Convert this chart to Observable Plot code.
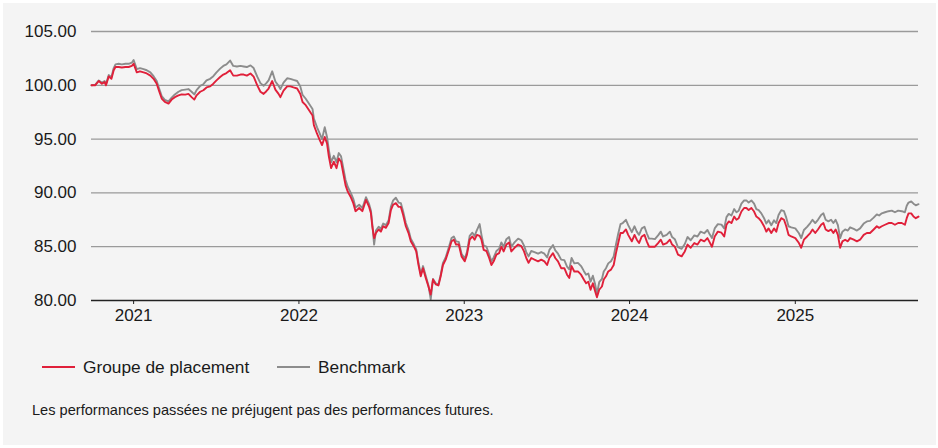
<!DOCTYPE html>
<html>
<head>
<meta charset="utf-8">
<script src="https://cdn.jsdelivr.net/npm/d3@7"></script>
<script src="https://cdn.jsdelivr.net/npm/@observablehq/plot@0.6"></script>
<style>
  html, body { margin: 0; padding: 0; background: #ffffff; }
  body { width: 938px; height: 448px; position: relative; overflow: hidden; font-family: "Liberation Sans", Arial, sans-serif; color: #1a1a1a; }
  #panel { position: absolute; left: 3px; top: 3px; width: 933px; height: 442px; background: #f4f4f4; }
  #chart { position: absolute; left: 0; top: 0; }
  .lg-line { position: absolute; height: 2px; width: 33px; }
  .lg-text { position: absolute; font-size: 17.3px; line-height: 20px; white-space: nowrap; }
  #note { position: absolute; left: 32px; top: 401px; font-size: 14.6px; line-height: 18px; white-space: nowrap; }
</style>
</head>
<body>
<div id="panel"></div>
<div id="chart"></div>
<div class="lg-line" style="left:42px; top:366px; background:#e0203a;"></div>
<div class="lg-text" style="left:83px; top:357px;">Groupe de placement</div>
<div class="lg-line" style="left:277px; top:366px; background:#8c8c8c;"></div>
<div class="lg-text" style="left:318px; top:357px;">Benchmark</div>
<div id="note">Les performances passées ne préjugent pas des performances futures.</div>
<script>
const seriesNames = ["Groupe de placement", "Benchmark"];
const yTicks = [80, 85, 90, 95, 100, 105];
const yearTicks = ["2021-01-01", "2022-01-01", "2023-01-01", "2024-01-01", "2025-01-01"];

const dates = [
  "2020-09-30","2020-10-08","2020-10-16","2020-10-23","2020-10-29","2020-11-01","2020-11-07","2020-11-13","2020-11-18","2020-11-22",
  "2020-11-29","2020-12-06","2020-12-14","2020-12-21","2020-12-28",
  "2021-01-01","2021-01-08","2021-01-15","2021-01-23","2021-01-30","2021-02-07","2021-02-14","2021-02-21","2021-02-26","2021-03-04",
  "2021-03-11","2021-03-19","2021-03-26","2021-04-02","2021-04-10","2021-04-17","2021-04-25","2021-05-02","2021-05-09","2021-05-15",
  "2021-05-20","2021-05-28","2021-06-04","2021-06-11","2021-06-19","2021-06-26","2021-07-03","2021-07-11","2021-07-18","2021-07-25",
  "2021-08-02","2021-08-09","2021-08-17","2021-08-25","2021-09-01","2021-09-08","2021-09-16","2021-09-23","2021-10-01","2021-10-08",
  "2021-10-15","2021-10-21","2021-10-26","2021-11-03","2021-11-10","2021-11-17","2021-11-21","2021-11-28","2021-12-06","2021-12-13",
  "2021-12-20","2021-12-28",
  "2022-01-04","2022-01-09","2022-01-16","2022-01-23","2022-01-31","2022-02-03","2022-02-10","2022-02-16","2022-02-21","2022-02-27",
  "2022-03-04","2022-03-08","2022-03-13","2022-03-19","2022-03-25","2022-03-30","2022-04-04","2022-04-09","2022-04-14","2022-04-19",
  "2022-04-25","2022-05-01","2022-05-06","2022-05-14","2022-05-21","2022-05-29","2022-06-05","2022-06-09","2022-06-12","2022-06-16",
  "2022-06-20","2022-06-26","2022-07-01","2022-07-06","2022-07-12","2022-07-18","2022-07-23","2022-07-28","2022-08-03","2022-08-09",
  "2022-08-14","2022-08-19","2022-08-25","2022-08-31","2022-09-05","2022-09-12","2022-09-17","2022-09-22","2022-09-27","2022-10-02",
  "2022-10-08","2022-10-14","2022-10-19","2022-10-24","2022-10-30","2022-11-05","2022-11-10","2022-11-15","2022-11-21","2022-11-28",
  "2022-12-04","2022-12-09","2022-12-14","2022-12-20","2022-12-26",
  "2023-01-02","2023-01-07","2023-01-13","2023-01-19","2023-01-24","2023-01-29","2023-02-04","2023-02-08","2023-02-13","2023-02-19",
  "2023-02-25","2023-03-02","2023-03-07","2023-03-13","2023-03-19","2023-03-24","2023-03-29","2023-04-04","2023-04-10","2023-04-15",
  "2023-04-22","2023-04-30","2023-05-07","2023-05-13","2023-05-18","2023-05-23","2023-05-29","2023-06-05","2023-06-13","2023-06-20",
  "2023-06-27","2023-07-03","2023-07-08","2023-07-16","2023-07-21","2023-07-27","2023-08-03","2023-08-10","2023-08-16","2023-08-21",
  "2023-08-26","2023-09-01","2023-09-09","2023-09-16","2023-09-22","2023-09-27","2023-10-02","2023-10-07","2023-10-12","2023-10-17",
  "2023-10-21","2023-10-26","2023-11-01","2023-11-05","2023-11-10","2023-11-15","2023-11-21","2023-11-27","2023-12-02","2023-12-07",
  "2023-12-12","2023-12-17","2023-12-24","2023-12-29",
  "2024-01-06","2024-01-12","2024-01-17","2024-01-22","2024-01-28","2024-02-03","2024-02-08","2024-02-13","2024-02-19","2024-02-26",
  "2024-03-04","2024-03-10","2024-03-15","2024-03-23","2024-03-30","2024-04-04","2024-04-10","2024-04-17","2024-04-25","2024-05-02",
  "2024-05-08","2024-05-15","2024-05-23","2024-05-30","2024-06-06","2024-06-14","2024-06-21","2024-06-26","2024-07-01","2024-07-07",
  "2024-07-14","2024-07-22","2024-07-28","2024-08-02","2024-08-07","2024-08-13","2024-08-19","2024-08-24","2024-08-29","2024-09-04",
  "2024-09-10","2024-09-15","2024-09-20","2024-09-26","2024-10-02","2024-10-07","2024-10-12","2024-10-18","2024-10-24","2024-10-29",
  "2024-11-03","2024-11-09","2024-11-15","2024-11-20","2024-11-25","2024-12-01","2024-12-07","2024-12-12","2024-12-17","2024-12-23",
  "2025-01-01","2025-01-09","2025-01-14","2025-01-20","2025-01-27","2025-02-03","2025-02-08","2025-02-14","2025-02-20","2025-02-27",
  "2025-03-04","2025-03-09","2025-03-15","2025-03-21","2025-03-26","2025-03-31","2025-04-05","2025-04-10","2025-04-15","2025-04-21",
  "2025-04-27","2025-05-02","2025-05-10","2025-05-17","2025-05-24","2025-06-01","2025-06-08","2025-06-15","2025-06-23","2025-06-30",
  "2025-07-05","2025-07-11","2025-07-18","2025-07-26","2025-08-02","2025-08-09","2025-08-16","2025-08-24","2025-08-31","2025-09-04",
  "2025-09-08","2025-09-14","2025-09-19","2025-09-24","2025-09-30"
];

const fund = [
  100.00,100.00,100.40,100.15,100.30,100.00,100.83,100.60,101.40,101.70,
  101.70,101.65,101.70,101.70,101.80,
  102.00,101.20,101.30,101.20,101.10,100.90,100.60,100.15,99.50,98.77,
  98.45,98.30,98.67,98.90,99.07,99.16,99.13,99.20,98.90,98.67,
  99.07,99.40,99.54,99.80,99.90,100.15,100.46,100.77,101.00,101.14,
  101.40,100.90,100.90,101.00,101.00,100.90,101.10,100.80,100.00,99.40,
  99.20,99.45,99.70,100.40,99.60,99.20,98.90,99.50,99.90,99.90,
  99.80,99.70,
  99.20,98.45,98.15,97.70,97.20,96.30,95.50,94.90,94.44,95.20,
  94.60,93.40,92.30,92.90,92.30,93.20,92.90,91.80,90.70,90.10,
  89.65,89.05,88.30,88.60,88.30,89.35,88.70,88.10,86.90,85.80,
  86.27,86.60,86.40,86.90,86.75,87.20,88.40,88.90,89.05,88.70,
  88.70,87.96,86.90,86.27,85.50,85.00,84.56,83.30,82.25,83.00,
  82.10,81.30,80.56,81.95,81.50,81.40,82.25,83.30,83.80,84.70,
  85.50,85.65,85.20,85.20,84.10,
  83.64,84.26,85.65,85.95,85.65,86.10,86.00,85.65,84.70,84.60,
  83.95,83.30,83.64,84.26,84.40,85.00,84.56,85.20,85.40,84.56,
  84.90,85.20,85.05,84.56,83.95,83.50,83.95,83.80,83.64,83.80,
  83.64,83.30,83.95,84.40,83.95,83.64,83.00,83.00,82.40,82.10,
  83.20,82.70,82.70,82.40,81.95,81.60,81.75,81.00,81.60,80.86,
  80.30,81.00,81.30,81.95,82.25,82.70,82.87,83.30,84.40,85.34,
  86.27,86.27,86.60,86.10,
  85.50,86.10,85.65,85.34,85.95,86.10,85.50,85.00,85.00,85.00,
  85.34,85.65,85.20,85.34,85.65,85.20,85.00,84.26,84.10,84.56,
  85.20,84.90,85.34,85.20,85.65,85.50,85.80,85.40,85.00,85.95,
  86.40,86.30,85.95,87.04,87.35,87.20,87.80,87.50,87.65,88.27,
  88.60,88.60,88.40,88.60,88.27,87.80,87.65,87.35,86.90,86.40,
  86.70,86.27,86.70,86.40,87.20,87.65,87.50,86.90,86.10,85.95,
  85.80,85.34,84.90,85.65,85.95,86.27,86.60,86.27,86.60,87.04,
  87.20,86.60,86.45,86.60,86.27,86.60,86.10,84.90,85.50,85.65,
  85.50,85.80,85.65,85.50,85.65,86.10,86.27,86.27,86.60,86.90,
  86.75,86.90,87.04,87.20,87.20,87.04,87.20,87.20,87.04,87.65,
  88.10,88.10,87.80,87.65,87.80
];

const benchmark = [
  100.00,100.05,100.45,100.25,100.40,100.10,100.95,100.75,101.60,101.95,
  102.00,101.95,102.00,102.00,102.10,
  102.35,101.50,101.60,101.50,101.40,101.20,100.85,100.40,99.75,99.00,
  98.65,98.50,98.85,99.15,99.40,99.55,99.60,99.65,99.40,99.15,
  99.55,99.95,100.10,100.45,100.60,100.85,101.20,101.55,101.80,101.95,
  102.30,101.80,101.75,101.80,101.75,101.70,101.85,101.60,100.80,100.20,
  99.95,100.20,100.45,101.30,100.35,99.95,99.65,100.25,100.65,100.60,
  100.50,100.40,
  99.90,99.10,98.75,98.30,97.80,96.90,96.10,95.50,95.00,96.10,
  95.20,94.00,92.85,93.45,92.85,93.70,93.40,92.30,91.20,90.55,
  90.05,89.45,88.65,88.90,88.60,89.60,88.95,88.35,87.10,85.20,
  86.50,86.85,86.65,87.15,87.00,87.45,88.70,89.30,89.55,89.10,
  89.05,88.30,87.20,86.55,85.75,85.20,84.75,83.50,82.45,83.20,
  82.30,81.40,80.10,82.00,81.60,81.50,82.40,83.50,84.00,84.95,
  85.80,85.95,85.50,85.45,84.35,
  83.90,84.50,86.00,86.30,86.00,86.55,87.10,86.10,85.10,85.00,
  84.30,83.65,84.00,84.60,84.80,85.40,85.00,85.70,85.90,85.00,
  85.40,85.75,85.60,85.10,84.50,84.10,84.60,84.50,84.35,84.50,
  84.35,84.00,84.70,85.15,84.65,84.35,83.80,83.75,83.15,82.90,
  83.95,83.45,83.50,83.20,82.75,82.40,82.50,81.75,82.30,81.50,
  80.60,81.70,82.00,82.70,83.00,83.45,83.65,84.10,85.20,86.20,
  87.10,87.20,87.50,87.00,
  86.35,86.90,86.40,86.10,86.70,86.85,86.25,85.75,85.75,85.70,
  86.05,86.40,85.95,86.10,86.40,85.90,85.70,84.95,84.80,85.25,
  85.90,85.60,86.05,85.95,86.40,86.25,86.55,86.15,85.80,86.70,
  87.10,87.05,86.70,87.75,88.05,87.90,88.50,88.20,88.35,89.00,
  89.30,89.30,89.10,89.30,89.00,88.50,88.40,88.10,87.65,87.15,
  87.45,87.00,87.45,87.20,87.95,88.40,88.30,87.70,86.90,86.80,
  86.70,86.25,85.80,86.55,86.85,87.20,87.50,87.20,87.50,87.95,
  88.10,87.50,87.35,87.50,87.20,87.50,87.00,85.80,86.40,86.60,
  86.50,86.80,86.65,86.50,86.70,87.15,87.35,87.40,87.70,88.00,
  87.90,88.10,88.20,88.30,88.35,88.20,88.35,88.30,88.20,88.80,
  89.10,89.20,89.00,88.85,88.95
];

const parse = d3.utcParse("%Y-%m-%d");
const rows = dates.map((d, i) => ({date: parse(d), fund: fund[i], bench: benchmark[i]}));

const chart = Plot.plot({
  width: 938,
  height: 335,
  marginLeft: 91,
  marginRight: 20,
  marginTop: 31,
  marginBottom: 35,
  style: {background: "transparent", fontFamily: "'Liberation Sans', Arial, sans-serif", color: "#1a1a1a", overflow: "visible"},
  x: {type: "utc", domain: [parse(dates[0]), parse(dates[dates.length - 1])]},
  y: {domain: [80, 105]},
  marks: [
    Plot.gridY(yTicks.slice(1), {stroke: "#9a9a9a", strokeOpacity: 1, strokeWidth: 1.3}),
    Plot.axisY(yTicks, {tickSize: 0, tickPadding: 15, tickFormat: d => d.toFixed(2), fontSize: 17, label: null}),
    Plot.lineY(rows, {x: "date", y: "bench", stroke: "#8c8c8c", strokeWidth: 1.9}),
    Plot.lineY(rows, {x: "date", y: "fund", stroke: "#e0203a", strokeWidth: 1.9}),
    Plot.ruleY([80], {stroke: "#222222", strokeWidth: 1.6}),
    Plot.axisX(yearTicks.map(parse), {tickSize: 4, tickPadding: 4, tickFormat: d3.utcFormat("%Y"), fontSize: 17, stroke: "#222222", label: null})
  ]
});
document.getElementById("chart").appendChild(chart);
</script>
</body>
</html>
